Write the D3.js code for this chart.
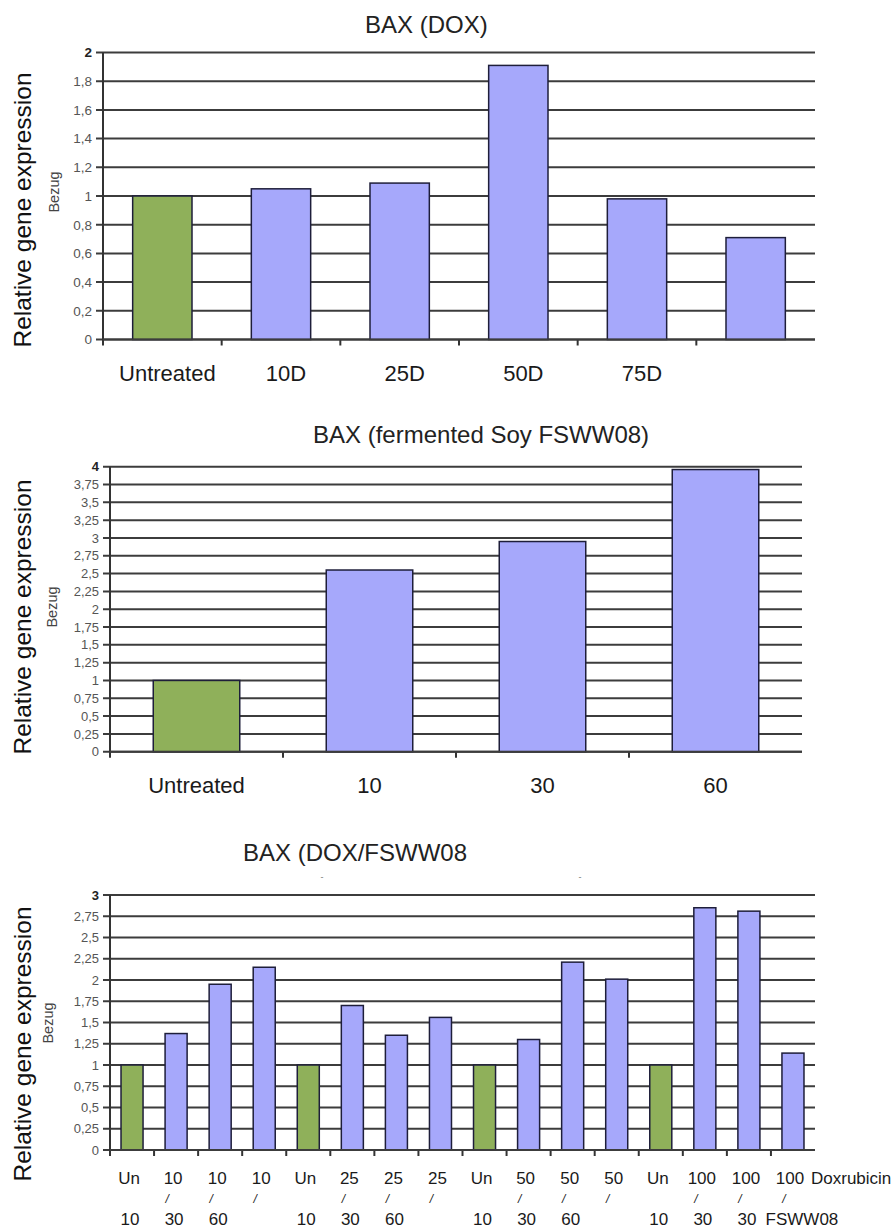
<!DOCTYPE html>
<html><head><meta charset="utf-8">
<script src="https://cdn.jsdelivr.net/npm/d3@7"></script>
<style>
html,body{margin:0;padding:0;background:#fff;}
svg{display:block;font-family:"Liberation Sans",Arial,sans-serif;}
</style></head>
<body>
<svg id="c" width="896" height="1228"></svg>
<script>
// ---------- data ----------
const dox_categories = ["Untreated","10D","25D","50D","75D",""];
const dox_values = [1.0, 1.05, 1.09, 1.91, 0.98, 0.71];
const dox_control = [true,false,false,false,false,false];
const dox_ticks = [0,0.2,0.4,0.6,0.8,1,1.2,1.4,1.6,1.8,2];

const soy_categories = ["Untreated","10","30","60"];
const soy_values = [1.0, 2.55, 2.95, 3.96];
const soy_control = [true,false,false,false];
const soy_ticks = [0,0.25,0.5,0.75,1,1.25,1.5,1.75,2,2.25,2.5,2.75,3,3.25,3.5,3.75,4];

const combo_line1 = ["Un","10","10","10","Un","25","25","25","Un","50","50","50","Un","100","100","100"];
const combo_line2 = ["","/","/","/","","/","/","/","","/","/","/","","/","/","/"];
const combo_line3 = ["10","30","60","","10","30","60","","10","30","60","","10","30","30","FSWW08"];
const combo_values = [1.0,1.37,1.95,2.15, 1.0,1.70,1.35,1.56, 1.0,1.30,2.21,2.01, 1.0,2.85,2.81,1.14];
const combo_control = [true,false,false,false, true,false,false,false, true,false,false,false, true,false,false,false];
const combo_ticks = [0,0.25,0.5,0.75,1,1.25,1.5,1.75,2,2.25,2.5,2.75,3];

const titles = ["BAX (DOX)","BAX (fermented Soy FSWW08)","BAX (DOX/FSWW08"];
const yTitle = "Relative gene expression";
const ySub = "Bezug";
const xExtra = "Doxrubicin";

// ---------- style ----------
const GREEN = "#8fb05a", BLUE = "#a6a8fb", STROKE = "#1e1e3a", GRID = "#3c3c3c";
const svg = d3.select("#c");
const fmt = v => String(v).replace(".", ",");

function drawChart(cfg){
  const g = svg.append("g");
  const n = cfg.values.length;
  const x = d3.scaleBand().domain(d3.range(n)).range([cfg.x0, cfg.x1]).paddingInner(0.5).paddingOuter(0.25);
  const y = d3.scaleLinear().domain([0, cfg.ymax]).range([cfg.y0, cfg.y1]);
  const step = (cfg.x1 - cfg.x0) / n;

  // grid lines
  g.append("g").selectAll("line").data(cfg.ticks).join("line")
    .attr("x1", cfg.x0 - 7).attr("x2", cfg.x1)
    .attr("y1", d => y(d)).attr("y2", d => y(d))
    .attr("stroke", GRID).attr("stroke-width", 2);

  // y axis with tick labels
  const ya = d3.axisLeft(y).tickValues(cfg.ticks).tickFormat(fmt).tickSize(0).tickPadding(11);
  const yg = g.append("g").attr("transform", `translate(${cfg.x0},0)`).call(ya);
  yg.select(".domain").remove();
  yg.selectAll("text").attr("font-size", cfg.tickFont).attr("fill", "#555")
    .attr("font-family", '"Liberation Sans",Arial,sans-serif');
  yg.selectAll("text").filter(d => d === cfg.ymax).attr("fill", "#222").attr("font-weight", "bold");

  // y axis line
  g.append("line").attr("x1", cfg.x0).attr("x2", cfg.x0).attr("y1", y(cfg.ymax)).attr("y2", cfg.y0 + 6)
    .attr("stroke", "#333").attr("stroke-width", 2);

  // x ticks at category boundaries
  g.append("g").selectAll("line").data(d3.range(1, n)).join("line")
    .attr("x1", d => cfg.x0 + d * step).attr("x2", d => cfg.x0 + d * step)
    .attr("y1", cfg.y0).attr("y2", cfg.y0 + 6)
    .attr("stroke", "#333").attr("stroke-width", 2);

  // bars
  g.append("g").selectAll("rect").data(cfg.values).join("rect")
    .attr("x", (d, i) => x(i)).attr("width", x.bandwidth())
    .attr("y", d => y(d)).attr("height", d => y(0) - y(d))
    .attr("fill", (d, i) => cfg.control[i] ? GREEN : BLUE)
    .attr("stroke", STROKE).attr("stroke-width", 1.5);

  // x axis baseline
  g.append("line").attr("x1", cfg.x0).attr("x2", cfg.x1).attr("y1", cfg.y0).attr("y2", cfg.y0)
    .attr("stroke", GRID).attr("stroke-width", 2);

  // title
  g.append("text").attr("x", cfg.titleX).attr("y", cfg.titleY).text(cfg.title)
    .attr("font-size", 24).attr("fill", "#222");

  // y titles
  g.append("text").attr("transform", `translate(${cfg.ytX},${cfg.ytY}) rotate(-90)`)
    .attr("text-anchor", "middle").attr("font-size", 24.5).attr("fill", "#111").text(yTitle);
  g.append("text").attr("transform", `translate(${cfg.bzX},${cfg.bzY}) rotate(-90)`)
    .attr("text-anchor", "middle").attr("font-size", 14.5).attr("fill", "#444").text(ySub);

  return {g, x, y, step};
}

// Chart 1
const c1 = drawChart({values: dox_values, control: dox_control, ticks: dox_ticks, ymax: 2,
  x0: 103, x1: 815, y0: 339.5, y1: 52.5, tickFont: 13.5,
  title: titles[0], titleX: 365, titleY: 33, ytX: 31, ytY: 210, bzX: 59, bzY: 192});
c1.g.append("g").selectAll("text").data(dox_categories).join("text")
  .attr("x", (d, i) => c1.x(i) + c1.x.bandwidth() / 2 + 5).attr("y", 381)
  .attr("text-anchor", "middle").attr("font-size", 22).attr("fill", "#1a1a1a").text(d => d);

// Chart 2
const c2 = drawChart({values: soy_values, control: soy_control, ticks: soy_ticks, ymax: 4,
  x0: 110, x1: 802, y0: 751.7, y1: 466.7, tickFont: 13,
  title: titles[1], titleX: 313, titleY: 443, ytX: 31, ytY: 617, bzX: 57, bzY: 607});
c2.g.append("g").selectAll("text").data(soy_categories).join("text")
  .attr("x", (d, i) => c2.x(i) + c2.x.bandwidth() / 2).attr("y", 793)
  .attr("text-anchor", "middle").attr("font-size", 22).attr("fill", "#1a1a1a").text(d => d);

// Chart 3
const c3 = drawChart({values: combo_values, control: combo_control, ticks: combo_ticks, ymax: 3,
  x0: 110, x1: 815, y0: 1150, y1: 895, tickFont: 13,
  title: titles[2], titleX: 243, titleY: 861, ytX: 31, ytY: 1044, bzX: 53, bzY: 1023});
const lab = c3.g.append("g").attr("font-size", 17).attr("fill", "#1a1a1a").attr("text-anchor", "middle");
lab.selectAll("text.l1").data(combo_line1).join("text").attr("class", "l1")
  .attr("x", (d, i) => c3.x(i) + c3.x.bandwidth() / 2 - 3).attr("y", 1184).text(d => d);
lab.selectAll("text.l2").data(combo_line2).join("text").attr("class", "l2")
  .attr("x", (d, i) => c3.x(i) + c3.x.bandwidth() / 2 - 9).attr("y", 1203).attr("font-size", 12)
  .attr("font-style", "italic").text(d => d);
lab.selectAll("text.l3").data(combo_line3).join("text").attr("class", "l3")
  .attr("x", (d, i) => c3.x(i) + c3.x.bandwidth() / 2 + (d.length > 3 ? 9 : -2)).attr("y", 1225).text(d => d);
c3.g.append("text").attr("x", 811).attr("y", 1184).attr("font-size", 17).attr("fill", "#1a1a1a").text(xExtra);
// tiny stray marks above the plot
c3.g.selectAll("text.mk").data(["-", "-"]).join("text").attr("class", "mk")
  .attr("x", (d, i) => i === 0 ? 322 : 580).attr("y", 880).attr("text-anchor", "middle")
  .attr("font-size", 9).attr("fill", "#777").text(d => d);
</script>
</body></html>
